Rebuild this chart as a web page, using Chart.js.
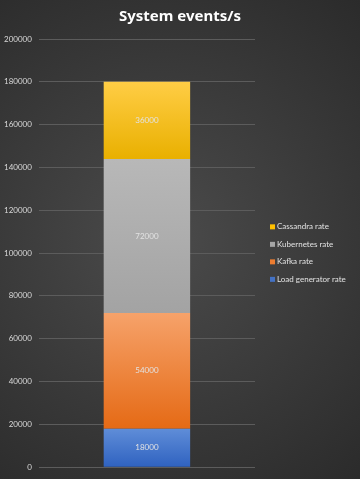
<!DOCTYPE html>
<html>
<head>
<meta charset="utf-8">
<script src="https://cdn.jsdelivr.net/npm/chart.js@4/dist/chart.umd.min.js"></script>
<style>
  html, body { margin: 0; padding: 0; background: #3a3a3a; }
  #wrap { width: 360px; height: 479px; }
</style>
</head>
<body>
<div id="wrap"><canvas id="chart" width="360" height="479"></canvas></div>
<script>
const chartTitle = "System events/s";
const categories = ["System events/s"];
const seriesNames = ["Load generator rate", "Kafka rate", "Kubernetes rate", "Cassandra rate"];
const loadGen = [18000];
const kafka = [54000];
const kubernetes = [72000];
const cassandra = [36000];
const yTicks = [0, 20000, 40000, 60000, 80000, 100000, 120000, 140000, 160000, 180000, 200000];

// top colour, bottom colour, legend colour
const fills = [
  ["#5f8dd8", "#2f62c0", "#4472c4"],
  ["#f6a26a", "#e56a15", "#ed7d31"],
  ["#b8b8b8", "#a3a3a3", "#a5a5a5"],
  ["#ffcd45", "#e9b000", "#ffc000"]
];
const values = [loadGen, kafka, kubernetes, cassandra];

function gradFill(i) {
  return ctx => {
    const chart = ctx.chart;
    const y = chart.scales.y;
    if (!chart.chartArea || !y) return fills[i][2];
    let start = 0;
    for (let k = 0; k < i; k++) start += values[k][0];
    const end = start + values[i][0];
    const g = chart.ctx.createLinearGradient(0, y.getPixelForValue(end), 0, y.getPixelForValue(start));
    g.addColorStop(0, fills[i][0]);
    g.addColorStop(1, fills[i][1]);
    return g;
  };
}

// background glow + title centred on the whole canvas
const bgPlugin = {
  id: "bg",
  beforeDraw(chart) {
    const c = chart.ctx;
    const w = chart.width, h = chart.height;
    const g = c.createRadialGradient(w * 0.45, h * 0.5, 10, w * 0.45, h * 0.5, h * 0.75);
    g.addColorStop(0, "#4a4a4a");
    g.addColorStop(1, "#262626");
    c.save();
    c.fillStyle = g;
    c.fillRect(0, 0, w, h);
    c.font = "bold 15px 'Noto Sans'";
    c.fillStyle = "#ffffff";
    c.textAlign = "center";
    c.textBaseline = "middle";
    c.fillText(chartTitle, w / 2, 17);
    c.restore();
  }
};

// value labels in the middle of each segment
const labelPlugin = {
  id: "vals",
  afterDatasetsDraw(chart) {
    const c = chart.ctx;
    c.save();
    c.font = "8px Lato";
    c.fillStyle = "#e2e2e2";
    c.textAlign = "center";
    c.textBaseline = "middle";
    chart.data.datasets.forEach((ds, i) => {
      chart.getDatasetMeta(i).data.forEach((bar, j) => {
        const mid = (bar.y + bar.base) / 2;
        c.fillText(String(ds.data[j]), bar.x, mid);
      });
    });
    c.restore();
  }
};

// legend on the right, top item = last series
const legendPlugin = {
  id: "sideLegend",
  afterDraw(chart) {
    const c = chart.ctx;
    const area = chart.chartArea;
    const step = 17.5;
    const n = seriesNames.length;
    const x = area.right + 15;
    let y = (area.top + area.bottom) / 2 - step * (n - 1) / 2;
    c.save();
    c.font = "8px Lato";
    c.textBaseline = "middle";
    for (let i = n - 1; i >= 0; i--) {
      c.fillStyle = fills[i][2];
      c.fillRect(x, y - 2.5, 5, 5);
      c.fillStyle = "#e2e2e2";
      c.fillText(seriesNames[i], x + 7, y);
      y += step;
    }
    c.restore();
  }
};

new Chart(document.getElementById("chart"), {
  type: "bar",
  data: {
    labels: categories,
    datasets: seriesNames.map((name, i) => ({
      label: name,
      data: values[i],
      backgroundColor: gradFill(i),
      borderWidth: 0,
      barPercentage: 0.4,
      categoryPercentage: 1
    }))
  },
  options: {
    responsive: false,
    animation: false,
    layout: { padding: { left: -3, right: 105, top: 39, bottom: 2 } },
    plugins: {
      title: { display: false },
      legend: { display: false },
      tooltip: { enabled: false }
    },
    scales: {
      x: {
        stacked: true,
        ticks: { display: false },
        grid: { display: false },
        border: { display: false }
      },
      y: {
        stacked: true,
        min: 0,
        max: 200000,
        afterBuildTicks(axis) { axis.ticks = yTicks.map(v => ({ value: v })); },
        ticks: {
          color: "#d9d9d9",
          font: { family: "Lato", size: 8 },
          padding: 7,
          callback: v => String(v)
        },
        grid: { color: "#5c5c5c", drawTicks: false },
        border: { display: false }
      }
    }
  },
  plugins: [bgPlugin, labelPlugin, legendPlugin]
});
</script>
</body>
</html>
